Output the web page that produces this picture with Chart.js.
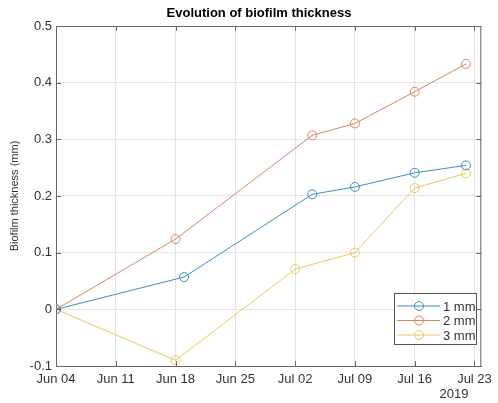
<!DOCTYPE html>
<html>
<head>
<meta charset="utf-8">
<script src="https://cdn.jsdelivr.net/npm/chart.js@4/dist/chart.umd.min.js"></script>
<style>
  body { margin: 0; background: #fff; }
  #wrap { width: 498px; height: 403px; }
</style>
</head>
<body>
<div id="wrap"><canvas id="chart" width="498" height="403"></canvas></div>
<script>
// --- data ---
const seriesNames = ['1 mm', '2 mm', '3 mm'];
const dates1mm = ['2019-06-04', '2019-06-19', '2019-07-04', '2019-07-09', '2019-07-16', '2019-07-22'];
const dates2mm = ['2019-06-04', '2019-06-18', '2019-07-04', '2019-07-09', '2019-07-16', '2019-07-22'];
const dates3mm = ['2019-06-04', '2019-06-18', '2019-07-02', '2019-07-09', '2019-07-16', '2019-07-22'];
const thick1mm = [0, 0.057, 0.203, 0.216, 0.241, 0.254];
const thick2mm = [0, 0.124, 0.307, 0.328, 0.384, 0.433];
const thick3mm = [0, -0.09, 0.071, 0.100, 0.214, 0.240];
const xTickDates = ['2019-06-04', '2019-06-11', '2019-06-18', '2019-06-25', '2019-07-02', '2019-07-09', '2019-07-16', '2019-07-23'];
const xTickLabels = ['Jun 04', 'Jun 11', 'Jun 18', 'Jun 25', 'Jul 02', 'Jul 09', 'Jul 16', 'Jul 23'];
const yTicks = [-0.1, 0, 0.1, 0.2, 0.3, 0.4, 0.5];

const colors = ['#3d8fc2', '#d8845f', '#ebc55c'];
const axisColor = '#666';
const textColor = '#333';
const FONT = 'Arial, "Liberation Sans", Helvetica, sans-serif';

const start = Date.parse('2019-06-04');
const toDay = d => Math.round((Date.parse(d) - start) / 86400000);
const xTickDays = xTickDates.map(toDay);

function pts(dates, vals) {
  return dates.map((d, i) => ({ x: toDay(d), y: vals[i] }));
}

const datasets = [
  pts(dates1mm, thick1mm),
  pts(dates2mm, thick2mm),
  pts(dates3mm, thick3mm)
].map((data, i) => ({
  label: seriesNames[i],
  data,
  borderColor: colors[i],
  borderWidth: 1,
  pointStyle: 'circle',
  pointRadius: 4.5,
  pointBorderWidth: 1,
  pointBorderColor: colors[i],
  pointBackgroundColor: 'rgba(0,0,0,0)',
  tension: 0
}));

// title, year label, inward ticks, legend box
const decor = {
  id: 'decor',
  afterDraw(chart) {
    const c = chart.ctx, a = chart.chartArea;
    const xs = chart.scales.x, ys = chart.scales.y;
    c.save();
    c.strokeStyle = axisColor;
    c.lineWidth = 1;
    c.beginPath();
    xTickDays.forEach(v => {
      const px = Math.round(xs.getPixelForValue(v)) + 0.5;
      c.moveTo(px, a.bottom); c.lineTo(px, a.bottom - 5);
      c.moveTo(px, a.top); c.lineTo(px, a.top + 5);
    });
    yTicks.forEach(v => {
      const py = Math.round(ys.getPixelForValue(v)) + 0.5;
      c.moveTo(a.left, py); c.lineTo(a.left + 5, py);
      c.moveTo(a.right, py); c.lineTo(a.right - 5, py);
    });
    c.stroke();

    c.fillStyle = '#000';
    c.font = 'bold 13px ' + FONT;
    c.textAlign = 'center';
    c.textBaseline = 'middle';
    c.fillText('Evolution of biofilm thickness', 259, 13);

    c.fillStyle = textColor;
    c.font = '13px ' + FONT;
    c.fillText('2019', 454, 394);

    // legend
    const lx = 394, ly = 293, lw = 82, lh = 51;
    c.fillStyle = '#fff';
    c.fillRect(lx, ly, lw, lh);
    c.strokeStyle = '#555';
    c.strokeRect(lx + 0.5, ly + 0.5, lw, lh);
    seriesNames.forEach((name, i) => {
      const y = ly + 13 + i * 14.5;
      c.strokeStyle = colors[i];
      c.beginPath();
      c.moveTo(lx + 3, y); c.lineTo(lx + 46, y);
      c.stroke();
      c.beginPath();
      c.arc(lx + 25, y, 4.5, 0, Math.PI * 2);
      c.stroke();
      c.fillStyle = textColor;
      c.textAlign = 'left';
      c.fillText(name, lx + 49, y + 1);
    });
    c.restore();
  }
};

new Chart(document.getElementById('chart').getContext('2d'), {
  type: 'line',
  data: { datasets },
  options: {
    responsive: false,
    animation: false,
    layout: { padding: { left: 0, right: 11, top: 26, bottom: 0 } },
    plugins: { legend: { display: false }, tooltip: { enabled: false } },
    scales: {
      x: {
        type: 'linear',
        min: 0,
        max: 49.8,
        afterFit: s => { s.height = 37; },
        afterBuildTicks: s => { s.ticks = xTickDays.map(v => ({ value: v })); },
        ticks: {
          callback: (v) => xTickLabels[xTickDays.indexOf(v)],
          color: textColor,
          font: { family: FONT, size: 13 },
          padding: 6,
          maxRotation: 0,
          autoSkip: false
        },
        grid: { color: '#e4e4e4', drawTicks: false },
        border: { color: axisColor, width: 1 }
      },
      y: {
        min: -0.1,
        max: 0.5,
        afterFit: s => { s.width = 56; },
        afterBuildTicks: s => { s.ticks = yTicks.map(v => ({ value: v })); },
        ticks: {
          callback: v => (Math.abs(v) < 1e-9 ? '0' : v.toFixed(1)),
          color: textColor,
          font: { family: FONT, size: 13 },
          padding: 4
        },
        title: {
          display: true,
          text: 'Biofilm thickness (mm)',
          color: textColor,
          font: { family: FONT, size: 11 },
          padding: { top: 8, bottom: 0 }
        },
        grid: { color: '#e4e4e4', drawTicks: false },
        border: { color: axisColor, width: 1 }
      }
    }
  },
  plugins: [decor, {
    id: 'frame',
    afterDatasetsDraw(chart) {
      const c = chart.ctx, a = chart.chartArea;
      c.save();
      c.strokeStyle = axisColor;
      c.lineWidth = 1;
      c.beginPath();
      c.moveTo(a.left, a.top + 0.5); c.lineTo(a.right, a.top + 0.5);
      c.moveTo(a.right - 0.5, a.top); c.lineTo(a.right - 0.5, a.bottom);
      c.stroke();
      c.restore();
    }
  }]
});
</script>
</body>
</html>
